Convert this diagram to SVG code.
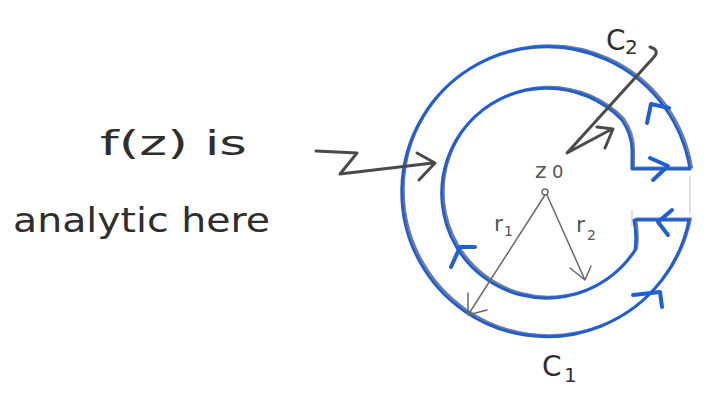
<svg xmlns="http://www.w3.org/2000/svg" width="707" height="400" viewBox="0 0 707 400">
<style>
.hand{font-family:"DejaVu Sans","Liberation Sans",sans-serif;fill:#2e2e2e}
.lbl{font-family:"DejaVu Sans","Liberation Sans",sans-serif;fill:#555}
.pencil{fill:none;stroke:#7a7a7a;stroke-width:2;stroke-linejoin:round;stroke-linecap:round}
.ink{fill:none;stroke:#1f5fd6;stroke-width:3;stroke-linejoin:round;stroke-linecap:round}
.chev{fill:none;stroke:#1f5fd6;stroke-width:4;stroke-linejoin:round;stroke-linecap:round}
.ptr{fill:none;stroke:#4a4a4a;stroke-width:3;stroke-linejoin:round;stroke-linecap:round}
.rad{fill:none;stroke:#6a6a6a;stroke-width:1.5;stroke-linejoin:round;stroke-linecap:round}
</style>
<rect width="707" height="400" fill="#ffffff"/>
<g id="text-analytic">
<text class="hand" x="100" y="155" font-size="34" textLength="147" lengthAdjust="spacingAndGlyphs">f(z) is</text>
<text class="hand" x="13" y="232" font-size="34" textLength="257" lengthAdjust="spacingAndGlyphs">analytic here</text>
</g>
<g id="contour">
<path d="M 632 210 L 632 226 M 690 176 L 690 214" fill="none" stroke="#d8d8d8" stroke-width="1.5"/>
<path class="pencil" transform="translate(2,-1.5)" d="M 689 220 L 634 220 Q 637 235 635 250 A 105 105 0 1 1 622 120 Q 632 135 632 150 L 632 169 L 690 169 A 145 145 0 1 0 689 220 Z"/>
<path class="ink" d="M 689 220 L 634 220 Q 637 235 635 250 A 105 105 0 1 1 622 120 Q 632 135 632 150 L 632 169 L 690 169 A 145 145 0 1 0 689 220 Z"/>
<polyline class="chev" points="647,123 651,104 669,108"/>
<polyline class="chev" points="650,158 668,166 653,180"/>
<polyline class="chev" points="672,210 658,222 668,235"/>
<polyline class="chev" points="633,295 660,292 662,307"/>
<polyline class="chev" points="451,267 460,247 475,247"/>
</g>
<g id="center">
<circle cx="545" cy="192" r="3" fill="none" stroke="#6a6a6a" stroke-width="1.5"/>
<text class="lbl" x="535" y="178" font-size="22">z</text>
<text class="lbl" x="552" y="178" font-size="18">0</text>
</g>
<g id="label-c2">
<text class="hand" x="606" y="50" font-size="28">C</text>
<text class="hand" x="625" y="54" font-size="20">2</text>
</g>
<g id="label-c1">
<text class="hand" x="542" y="376" font-size="28">C</text>
<text class="hand" x="564" y="382" font-size="20">1</text>
</g>
<g id="label-r1">
<text class="lbl" x="494" y="231" font-size="22">r</text>
<text class="lbl" x="504" y="236" font-size="14">1</text>
</g>
<g id="label-r2">
<text class="lbl" x="576" y="232" font-size="22">r</text>
<text class="lbl" x="587" y="240" font-size="14">2</text>
</g>
<g id="connectors">
<path class="ptr" d="M 316 151 L 357 153 L 340 174 L 433 163 M 417 153 L 435 163 L 419 180"/>
<path class="ptr" d="M 650 47 Q 660 50 654 57 L 567 153 L 612 129 M 597 127 L 613 129 L 605 148"/>
<path class="rad" d="M 545 195 L 468 315 M 468 293 L 468 315 L 487 310"/>
<path class="rad" d="M 547 195 L 585 280 M 570 268 L 585 280 L 591 266"/>
</g>
</svg>
